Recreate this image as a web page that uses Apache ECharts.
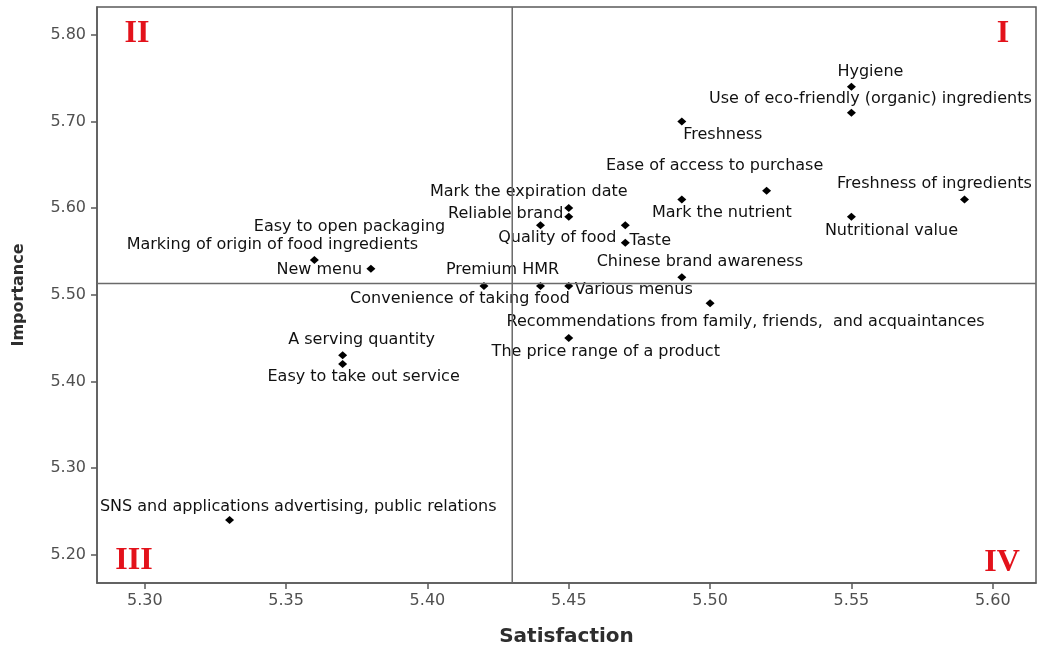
<!DOCTYPE html>
<html>
<head>
<meta charset="utf-8">
<title>Importance-Satisfaction Analysis</title>
<script src="https://cdn.jsdelivr.net/npm/echarts@6/dist/echarts.min.js"></script>
<style>
  html, body { margin: 0; padding: 0; background: #ffffff; }
  #chart { width: 1040px; height: 647px; }
</style>
</head>
<body>
<div id="chart"></div>
<script>
// Attribute names
const attributes = [
  'Hygiene',
  'Use of eco-friendly (organic) ingredients',
  'Freshness',
  'Ease of access to purchase',
  'Freshness of ingredients',
  'Mark the nutrient',
  'Nutritional value',
  'Mark the expiration date',
  'Reliable brand',
  'Easy to open packaging',
  'Quality of food',
  'Taste',
  'Marking of origin of food ingredients',
  'New menu',
  'Chinese brand awareness',
  'Various menus',
  'Recommendations from family, friends,  and acquaintances',
  'The price range of a product',
  'Premium HMR',
  'Convenience of taking food',
  'A serving quantity',
  'Easy to take out service',
  'SNS and applications advertising, public relations'
];

// Mean satisfaction score per attribute
const satisfaction = [
  5.55, 5.55, 5.49, 5.52, 5.59, 5.49, 5.55, 5.45, 5.45, 5.44, 5.47, 5.47,
  5.36, 5.38, 5.49, 5.45, 5.50, 5.45, 5.44, 5.42, 5.37, 5.37, 5.33
];

// Mean importance score per attribute
const importance = [
  5.74, 5.71, 5.70, 5.62, 5.61, 5.61, 5.59, 5.60, 5.59, 5.58, 5.58, 5.56,
  5.54, 5.53, 5.52, 5.51, 5.49, 5.45, 5.51, 5.51, 5.43, 5.42, 5.24
];

// Quadrant dividing lines (overall means)
const dividerSatisfaction = 5.43;
const dividerImportance = 5.513;

// Axis ranges
const xRange = [5.2831, 5.6153];
const yRange = [5.1673, 5.832];

// Tick labels
const xTicks = [5.30, 5.35, 5.40, 5.45, 5.50, 5.55, 5.60];
const yTicks = [5.20, 5.30, 5.40, 5.50, 5.60, 5.70, 5.80];

// Quadrant names
const quadrantNames = ['I', 'II', 'III', 'IV'];

// Label placement: offset of each label's centre from its point, in px
const labelOffsets = [
  [19, -15], [19, -14], [41, 13], [-52, -25], [-30, -16], [40, 13],
  [40, 14], [-40, -16], [-63, -3], [-191, 1], [-68, 12], [25, -1.5],
  [-42, -15], [-51.5, 1], [18, -16], [65, 4], [35.5, 18], [37, 14],
  [-38, -16.5], [-24, 12.5], [19, -16], [21, 13], [68.6, -13.4]
];

const points = attributes.map((name, i) => ({
  name: name,
  value: [satisfaction[i], importance[i]]
}));

// Quadrant numeral placement (centre, px)
const quadrantPos = [[1003, 34], [137, 34], [134, 561], [1002, 563]];

const chart = echarts.init(document.getElementById('chart'), null, { renderer: 'canvas' });

const axisGray = '#5a5a5a';
const tickTextStyle = {
  color: '#505050',
  fontFamily: 'DejaVu Sans',
  fontSize: 16
};

const dividerStyle = { color: '#6a6a6a', width: 1.5, type: 'solid' };

chart.setOption({
  animation: false,
  backgroundColor: '#ffffff',
  grid: {
    left: 97, right: 4, top: 7, bottom: 64,
    containLabel: false,
    outerBoundsMode: 'none',
    show: true,
    borderColor: axisGray,
    borderWidth: 1.5,
    backgroundColor: '#ffffff'
  },
  xAxis: {
    type: 'value',
    min: xRange[0],
    max: xRange[1],
    name: 'Satisfaction',
    nameLocation: 'middle',
    nameGap: 44,
    nameTextStyle: {
      color: '#2e2e2e', fontFamily: 'DejaVu Sans', fontWeight: 'bold', fontSize: 20
    },
    axisLine: { show: true, lineStyle: { color: axisGray, width: 1.5 } },
    axisTick: {
      show: true, inside: false, length: 6, customValues: xTicks,
      lineStyle: { color: axisGray, width: 1.5 }
    },
    axisLabel: {
      ...tickTextStyle, margin: 10, customValues: xTicks,
      formatter: v => v.toFixed(2)
    },
    splitLine: { show: false }
  },
  yAxis: {
    type: 'value',
    min: yRange[0],
    max: yRange[1],
    name: 'Importance',
    nameLocation: 'middle',
    nameGap: 70,
    nameRotate: 90,
    nameTextStyle: {
      color: '#2e2e2e', fontFamily: 'DejaVu Sans', fontWeight: 'bold', fontSize: 16
    },
    axisLine: { show: true, lineStyle: { color: axisGray, width: 1.5 } },
    axisTick: {
      show: true, inside: false, length: 6, customValues: yTicks,
      lineStyle: { color: axisGray, width: 1.5 }
    },
    axisLabel: {
      ...tickTextStyle, margin: 11, customValues: yTicks,
      formatter: v => v.toFixed(2)
    },
    splitLine: { show: false }
  },
  series: [
    {
      type: 'scatter',
      data: points,
      symbol: 'diamond',
      symbolSize: [9, 8],
      itemStyle: { color: '#000000', opacity: 1 },
      label: {
        show: true,
        position: 'inside',
        align: 'center',
        verticalAlign: 'middle',
        formatter: p => p.name,
        color: '#111111',
        opacity: 1,
        textBorderWidth: 0,
        fontFamily: 'DejaVu Sans',
        fontSize: 16
      },
      labelLayout: p => ({
        dx: labelOffsets[p.dataIndex][0],
        dy: labelOffsets[p.dataIndex][1],
        hideOverlap: false
      }),
      z: 3
    },
    {
      // Vertical quadrant divider
      type: 'line',
      data: [[dividerSatisfaction, yRange[0]], [dividerSatisfaction, yRange[1]]],
      symbol: 'none',
      silent: true,
      lineStyle: dividerStyle,
      z: 5
    },
    {
      // Horizontal quadrant divider
      type: 'line',
      data: [[xRange[0], dividerImportance], [xRange[1], dividerImportance]],
      symbol: 'none',
      silent: true,
      lineStyle: dividerStyle,
      z: 5
    }
  ],
  graphic: quadrantNames.map((t, i) => ({
    type: 'text',
    x: quadrantPos[i][0],
    y: quadrantPos[i][1],
    z: 10,
    style: {
      text: t,
      fill: '#e3121b',
      font: 'bold 32px "Liberation Serif", "DejaVu Serif", serif',
      align: 'center',
      verticalAlign: 'middle'
    }
  }))
});
</script>
</body>
</html>
